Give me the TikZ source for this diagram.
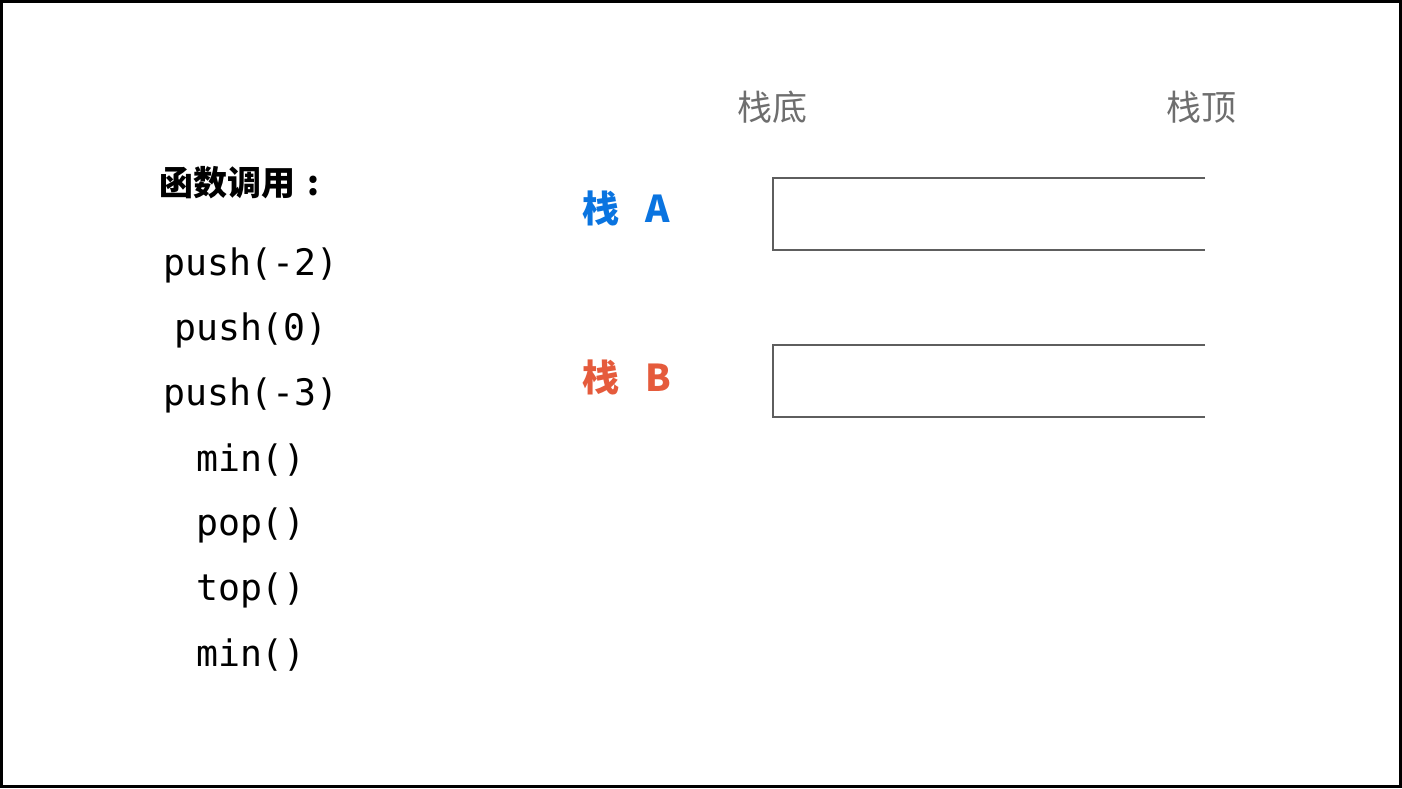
\documentclass[tikz,border=0pt]{standalone}
\usepackage{fontspec}
\setmainfont{Noto Sans CJK SC}
\setmonofont{DejaVu Sans Mono}
\usepackage{tikz}
\usetikzlibrary{positioning}
\definecolor{myblue}{HTML}{0A74E0}
\definecolor{myred}{HTML}{E55B3C}
\definecolor{mygray}{HTML}{6E6E6E}
\definecolor{myline}{HTML}{5E5E5E}
\tikzset{call/.style={font=\ttfamily\fontsize{36.5}{40}\selectfont,inner sep=0pt}}
\tikzset{stackname/.style={font=\bfseries\fontsize{37}{42}\selectfont,inner sep=0pt}}
\tikzset{endname/.style={font=\fontsize{35}{40}\selectfont,text=mygray,inner sep=0pt}}
\tikzset{stackline/.style={color=myline,line width=2pt}}

\begin{document}
\begin{tikzpicture}[x=1pt,y=-1pt]
            % basics
            \useasboundingbox (0,0) rectangle (1402,788);
            \draw [line width=3pt] (1.5,1.5) rectangle (1400.5,786.5);
            % function calls
            \node[font=\bfseries\fontsize{34}{40}\selectfont,inner sep=0pt,anchor=west] (title) at (159,183) {函数调用\hspace{12pt}:};
            \node[call] (c1) at (251,265) {push(-2)};
            \node[call] (c2) at (251,330) {push(0)};
            \node[call] (c3) at (251,395) {push(-3)};
            \node[call] (c4) at (251,460) {min()};
            \node[call] (c5) at (251,525) {pop()};
            \node[call] (c6) at (251,590) {top()};
            \node[call] (c7) at (251,655) {min()};
            % stacks
            \node[stackname,text=myblue,anchor=west] (sa) at (582,208) {栈\hspace{26pt}A};
            \node[stackname,text=myred,anchor=west] (sb) at (582,377) {栈\hspace{26pt}B};
            \node[endname] (bottom) at (772,107) {栈底};
            \node[endname] (topend) at (1201,107) {栈顶};
            \draw [stackline] (1205,178) -- (773,178) -- (773,250) -- (1205,250);
            \draw [stackline] (1205,345) -- (773,345) -- (773,417) -- (1205,417);
        \end{tikzpicture}
\end{document}
